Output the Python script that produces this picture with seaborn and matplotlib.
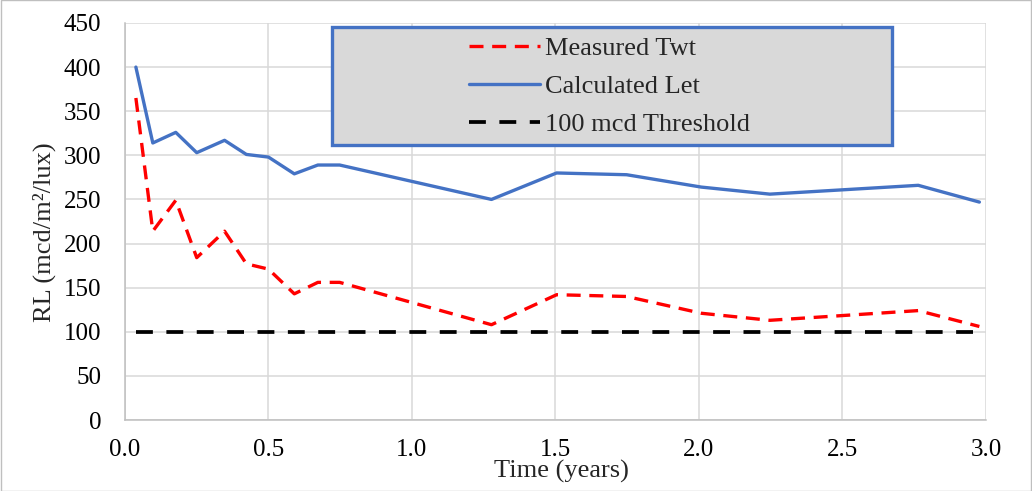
import matplotlib
matplotlib.use("Agg")
import matplotlib.pyplot as plt
from matplotlib.patches import Rectangle
import seaborn as sns
import pandas as pd

# values
time_years = [0.038, 0.097, 0.177, 0.25, 0.347, 0.423, 0.5, 0.59, 0.672, 0.748,
              1.277, 1.504, 1.748, 2.008, 2.247, 2.764, 2.977]
measured_twt = [365, 214, 249, 184, 214, 177, 171, 143, 156, 156,
                108, 142, 140, 121, 113, 124, 106]
calculated_let = [400, 314, 326, 303, 317, 301, 298, 279, 289, 289,
                  250, 280, 278, 264, 256, 266, 247]
threshold = [100] * len(time_years)

x_ticks = [0.0, 0.5, 1.0, 1.5, 2.0, 2.5, 3.0]
y_ticks = list(range(0, 451, 50))

df = pd.DataFrame({
    'time': time_years,
    'twt': measured_twt,
    'let': calculated_let,
    'thr': threshold,
})

sns.set_theme(style="white")
plt.rcParams['font.family'] = ['Liberation Serif', 'DejaVu Serif']

fig = plt.figure(figsize=(10.32, 4.91), dpi=100)
ax = fig.add_axes([0.1211, 0.1446, 0.8343, 0.8086])

grid_col = '#D9D9D9'
blue = '#4472C4'

sns.lineplot(data=df, x='time', y='twt', color='#FF0000', lw=2.4, ax=ax,
             label='Measured Twt')
ax.lines[-1].set_dashes((4.2, 2.6))
sns.lineplot(data=df, x='time', y='let', color=blue, lw=2.4, ax=ax,
             label='Calculated Let')
sns.lineplot(data=df, x='time', y='thr', color='black', lw=2.7, ax=ax,
             label='100 mcd Threshold')
ax.lines[-1].set_dashes((4.5, 3.6))

ax.set_xlim(0, 3.0)
ax.set_ylim(0, 450)
ax.set_xticks(x_ticks)
ax.set_xticklabels([f'{t:.1f}' for t in x_ticks])
ax.set_yticks(y_ticks)
ax.grid(True, color=grid_col, lw=1.1)
ax.set_axisbelow(True)
for side in ['top', 'right']:
    ax.spines[side].set_visible(False)
for side in ['left', 'bottom']:
    ax.spines[side].set_color('#BFBFBF')
    ax.spines[side].set_linewidth(1.1)
ax.tick_params(axis='both', length=0, labelsize=18, colors='black')
ax.tick_params(axis='x', pad=14)
ax.tick_params(axis='y', pad=17)

ax.set_xlabel('Time (years)', fontsize=19, va='top')
ax.xaxis.set_label_coords(0.507, -0.10)
ax.set_ylabel('RL (mcd/m²/lux)', fontsize=19)
ax.yaxis.set_label_coords(-0.08, 0.474)

# legend box
box = Rectangle((0.24, 0.693), 0.651, 0.297, transform=ax.transAxes,
                facecolor='#D9D9D9', edgecolor=blue, lw=2.4, zorder=4)
ax.add_patch(box)
leg = ax.legend(loc='center', bbox_to_anchor=(0.563, 0.84), frameon=False,
                fontsize=19, handlelength=2.7, handletextpad=0.2,
                labelspacing=0.55, borderpad=0)
leg.set_zorder(5)

# outer chart border
fig.patches.append(Rectangle((0.001, 0.001), 0.998, 0.998, transform=fig.transFigure,
                             fill=False, edgecolor='#BFBFBF', lw=1))

fig.savefig('out.png', dpi=100)
